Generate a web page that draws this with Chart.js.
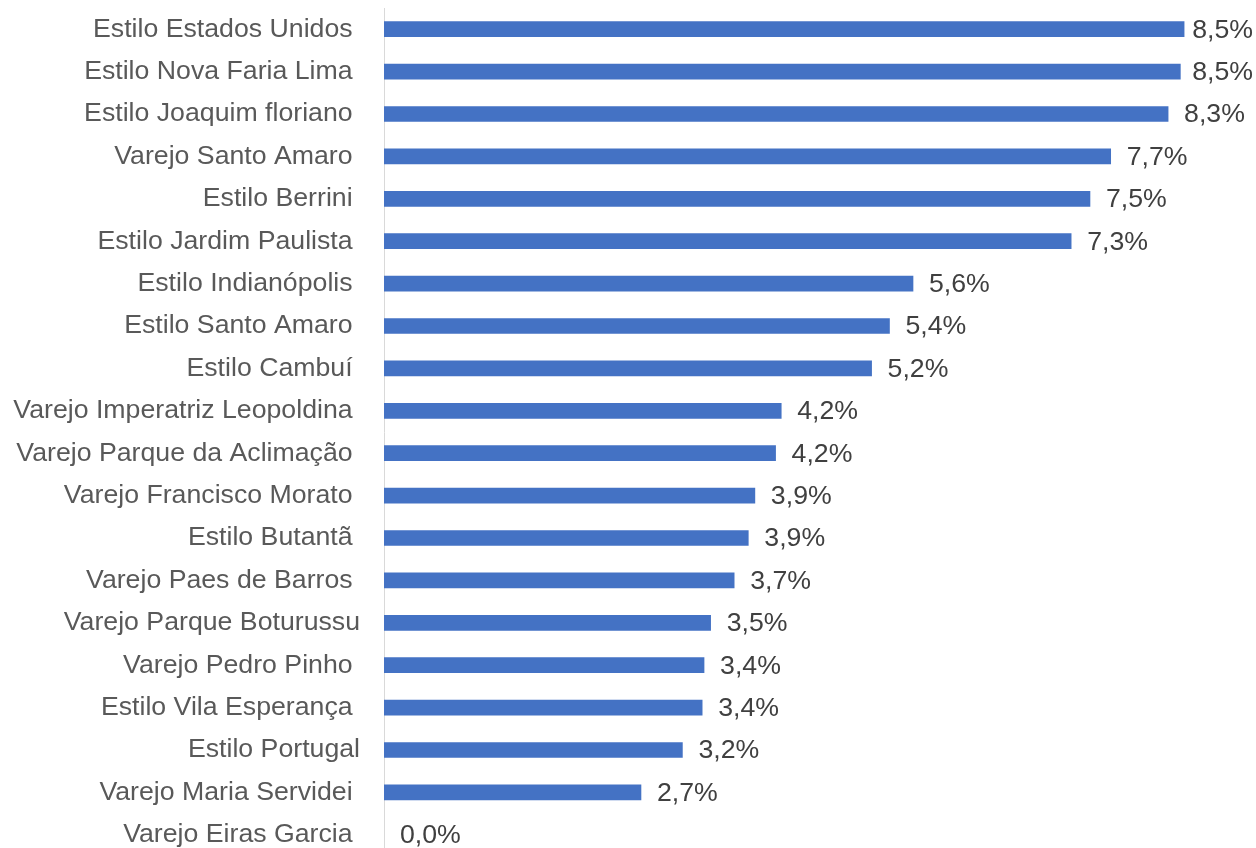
<!DOCTYPE html>
<html>
<head>
<meta charset="utf-8">
<script src="https://cdn.jsdelivr.net/npm/chart.js@4/dist/chart.umd.min.js"></script>
<style>
  html, body { margin: 0; padding: 0; background: #fff; overflow: hidden; }
  #wrap { width: 1256px; height: 856px; position: relative; }
</style>
</head>
<body>
<div id="wrap"><canvas id="chart"></canvas></div>
<script>
// categories (trailing spaces kept as in the source sheet)
const categories = [
  "Estilo Estados Unidos ",
  "Estilo Nova Faria Lima ",
  "Estilo Joaquim floriano ",
  "Varejo Santo Amaro ",
  "Estilo Berrini ",
  "Estilo Jardim Paulista ",
  "Estilo Indianópolis ",
  "Estilo Santo Amaro ",
  "Estilo Cambuí ",
  "Varejo Imperatriz Leopoldina ",
  "Varejo Parque da Aclimação ",
  "Varejo Francisco Morato ",
  "Estilo Butantã ",
  "Varejo Paes de Barros ",
  "Varejo Parque Boturussu",
  "Varejo Pedro Pinho ",
  "Estilo Vila Esperança ",
  "Estilo Portugal",
  "Varejo Maria Servidei ",
  "Varejo Eiras Garcia ",
];

// share (%)
const values = [
  8.50, 8.46, 8.33, 7.72, 7.50, 7.30, 5.62, 5.37, 5.18, 4.22,
  4.16, 3.94, 3.87, 3.72, 3.47, 3.40, 3.38, 3.17, 2.73, 0.0,
];

const barColor = "#4472C4";
const fontFamily = "Arial, 'Liberation Sans', sans-serif";
const fontSize = 26.7;

// draws "8,5%" style labels at the end of every bar
const endLabels = {
  id: "endLabels",
  afterDatasetsDraw(chart) {
    const ctx = chart.ctx;
    const meta = chart.getDatasetMeta(0);
    ctx.save();
    ctx.font = fontSize + "px " + fontFamily;
    ctx.fillStyle = "#404040";
    ctx.textBaseline = "middle";
    ctx.textAlign = "left";
    meta.data.forEach((bar, i) => {
      const txt = values[i].toFixed(1).replace(".", ",") + "%";
      const w = ctx.measureText(txt).width;
      let x = bar.x + 16;
      // keep inside the picture, like the spreadsheet does
      if (x + w > chart.width - 3) x = chart.width - 3 - w;
      ctx.fillText(txt, x, bar.y + 1);
    });
    ctx.restore();
  },
};

new Chart(document.getElementById("chart"), {
  type: "bar",
  data: {
    labels: categories,
    datasets: [
      {
        data: values,
        backgroundColor: (c) => (values[c.dataIndex] > 0 ? barColor : "rgba(0,0,0,0)"),
        borderWidth: 0,
        barThickness: 15,
      },
    ],
  },
  options: {
    indexAxis: "y",
    responsive: true,
    maintainAspectRatio: false,
    animation: false,
    layout: {
      padding: { top: 8, right: 6, bottom: 0, left: 0 },
    },
    plugins: {
      legend: { display: false },
      tooltip: { enabled: false },
    },
    scales: {
      x: {
        display: false,
        min: 0,
        max: 9.2,
      },
      y: {
        afterFit(scale) {
          scale.width = 384;
          scale.paddingTop = 0;
          scale.paddingBottom = 0;
        },
        grid: { display: false, drawTicks: false },
        border: { display: true, color: "#d9d9d9", width: 1 },
        ticks: {
          autoSkip: false,
          padding: 24,
          color: "#595959",
          font: { family: fontFamily, size: fontSize },
        },
      },
    },
  },
  plugins: [endLabels],
});
</script>
</body>
</html>
